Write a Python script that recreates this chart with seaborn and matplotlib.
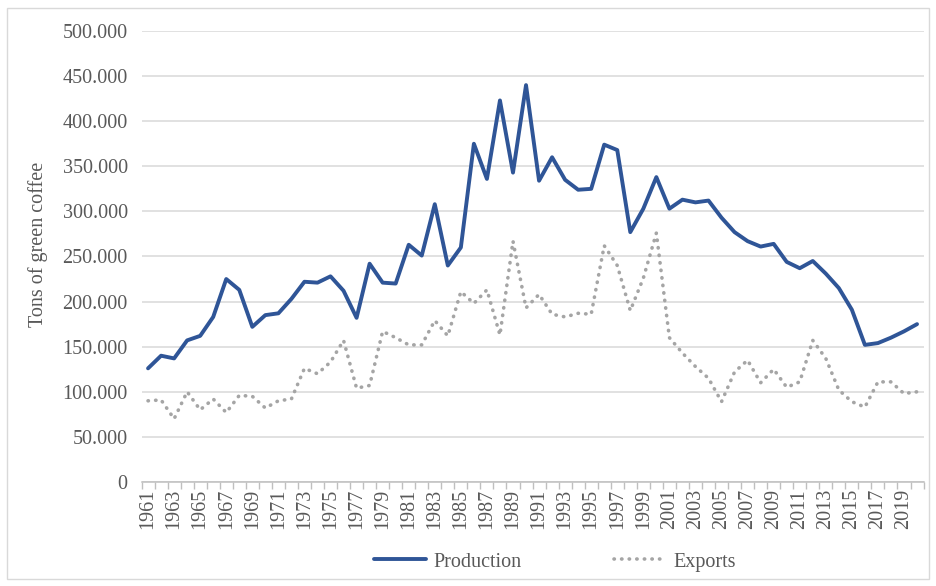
import matplotlib
matplotlib.use("Agg")
import matplotlib.pyplot as plt
from matplotlib.patches import Rectangle
from matplotlib.ticker import FuncFormatter, MultipleLocator
import pandas as pd
import seaborn as sns

years = list(range(1961, 2021))

production = [126, 140, 137, 157, 162, 183, 225, 213, 172, 185,
              187, 203, 222, 221, 228, 212, 182, 242, 221, 220,
              263, 251, 308, 240, 260, 375, 336, 423, 343, 440,
              334, 360, 335, 324, 325, 374, 368, 277, 303, 338,
              303, 313, 310, 312, 293, 277, 267, 261, 264, 244,
              237, 245, 231, 215, 191, 152, 154, 160, 167, 175]

exports = [90, 91, 70, 100, 80, 92, 77, 96, 95, 82,
           90, 92, 126, 120, 133, 157, 104, 107, 167, 160,
           152, 152, 179, 162, 211, 198, 213, 163, 267, 193,
           208, 186, 183, 187, 186, 262, 240, 190, 226, 276,
           160, 143, 128, 115, 89, 122, 135, 110, 125, 105,
           111, 157, 137, 102, 89, 83, 111, 111, 98, 100]

df = pd.DataFrame({
    "year": years * 2,
    "tons": [v * 1000 for v in production] + [v * 1000 for v in exports],
    "series": ["Production"] * len(years) + ["Exports"] * len(years),
})

sns.set_style("white")
plt.rcParams["font.family"] = ["Liberation Serif", "DejaVu Serif"]
text_col = "#595959"
fs = 14.5

fig = plt.figure(figsize=(9.36, 5.86), dpi=100)
ax = fig.add_axes([0.1512, 0.1775, 0.8355, 0.7696])

sns.lineplot(data=df, x="year", y="tons", hue="series", style="series",
             palette={"Production": "#2F5597", "Exports": "#A5A5A5"},
             dashes={"Production": "", "Exports": (0.1, 2.0)},
             ax=ax, legend=False)

lines = ax.get_lines()
lines[0].set_linewidth(2.8)
lines[0].set_solid_joinstyle("round")
lines[1].set_linewidth(2.6)
lines[1].set_dash_capstyle("round")

ax.set_xlim(1960.5, 2020.5)
ax.set_ylim(0, 500000)
ax.yaxis.set_major_locator(MultipleLocator(50000))
ax.yaxis.set_major_formatter(FuncFormatter(lambda v, p: f"{int(v):,}".replace(",", ".")))
ax.grid(axis="y", color="#D9D9D9", linewidth=1.1)
ax.set_axisbelow(True)

ax.set_xticks(years[::2])
ax.set_xticklabels([str(y) for y in years[::2]], rotation=90)
ax.set_xticks([y - 0.5 for y in years] + [2020.5], minor=True)
ax.tick_params(axis="x", which="major", length=0, pad=5, labelsize=fs, labelcolor=text_col)
ax.tick_params(axis="x", which="minor", length=5, color="#BFBFBF", width=1, bottom=True)
ax.tick_params(axis="y", length=0, pad=10, labelsize=fs, labelcolor=text_col)

for s in ["top", "right", "left"]:
    ax.spines[s].set_visible(False)
ax.spines["bottom"].set_color("#BFBFBF")
ax.spines["bottom"].set_linewidth(1.1)

ax.set_xlabel("")
ax.set_ylabel("Tons of green coffee", fontsize=fs, color=text_col)
ax.yaxis.set_label_coords(-0.119, 0.527)

handles = [plt.Line2D([], [], color="#2F5597", linewidth=2.8),
           plt.Line2D([], [], color="#A5A5A5", linewidth=2.6, linestyle=(0, (0.1, 2.0)),
                      dash_capstyle="round")]
fig.legend(handles, ["Production", "Exports"], loc="center",
           bbox_to_anchor=(0.593, 0.041), ncol=2, frameon=False,
           fontsize=fs, labelcolor=text_col, handlelength=2.6,
           handletextpad=0.35, columnspacing=4.6)

fig.add_artist(Rectangle((0.008, 0.012), 0.984, 0.975, transform=fig.transFigure,
                         fill=False, edgecolor="#D9D9D9", linewidth=1))

fig.savefig("out.png", dpi=100)
